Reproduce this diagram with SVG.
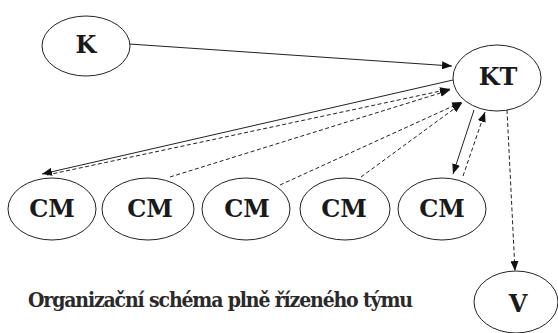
<svg xmlns="http://www.w3.org/2000/svg" width="558" height="333" viewBox="0 0 558 333">
<style>
.n ellipse{fill:#fff;stroke:#222;stroke-width:1}
.n text{font-family:'DejaVu Serif',serif;font-weight:bold;font-size:24px;text-anchor:middle;fill:#1a1a1a}
.c line{stroke:#222;stroke-width:1;fill:none;marker-end:url(#ah)}
.c .d{stroke-dasharray:4 2.5}
.cap{font-family:'DejaVu Serif Condensed','DejaVu Serif',serif;font-stretch:condensed;font-weight:bold;font-size:21px;fill:#2a2a2a}
</style>
<defs>
<marker id="ah" viewBox="0 0 10 8" refX="10" refY="4" markerWidth="10" markerHeight="8" markerUnits="userSpaceOnUse" orient="auto">
<path d="M0,0 L10,4 L0,8 z" fill="#111"/>
</marker>
</defs>
<rect width="558" height="333" fill="#fff"/>
<g id="connectors" class="c">
<line x1="129" y1="44" x2="452" y2="66"/>
<line x1="453" y1="80" x2="42" y2="174"/>
<line class="d" x1="47" y1="175" x2="450" y2="89"/>
<line class="d" x1="170" y1="177" x2="450" y2="90"/>
<line class="d" x1="280" y1="185" x2="462" y2="102"/>
<line class="d" x1="361" y1="177" x2="462" y2="103"/>
<line x1="474" y1="110" x2="453" y2="174"/>
<line class="d" x1="463" y1="176" x2="485" y2="112"/>
<line class="d" x1="507" y1="110" x2="515" y2="271"/>
</g>
<g id="K" class="n"><ellipse cx="86" cy="46" rx="44" ry="30"/><text x="86" y="53">K</text></g>
<g id="KT" class="n"><ellipse cx="497" cy="78" rx="44" ry="33"/><text x="498" y="85">KT</text></g>
<g id="CM1" class="n"><ellipse cx="52" cy="209" rx="44" ry="31"/><text x="52" y="217">CM</text></g>
<g id="CM2" class="n"><ellipse cx="148" cy="209" rx="46" ry="31"/><text x="150" y="217">CM</text></g>
<g id="CM3" class="n"><ellipse cx="246" cy="209" rx="44" ry="31"/><text x="247" y="217">CM</text></g>
<g id="CM4" class="n"><ellipse cx="345" cy="209" rx="45" ry="31"/><text x="344" y="217">CM</text></g>
<g id="CM5" class="n"><ellipse cx="442" cy="209" rx="44" ry="31"/><text x="442" y="217">CM</text></g>
<g id="V" class="n"><ellipse cx="516" cy="302" rx="42" ry="31"/><text x="518" y="312">V</text></g>
<text class="cap" x="28" y="307" textLength="385">Organizační schéma plně řízeného týmu</text>
</svg>
